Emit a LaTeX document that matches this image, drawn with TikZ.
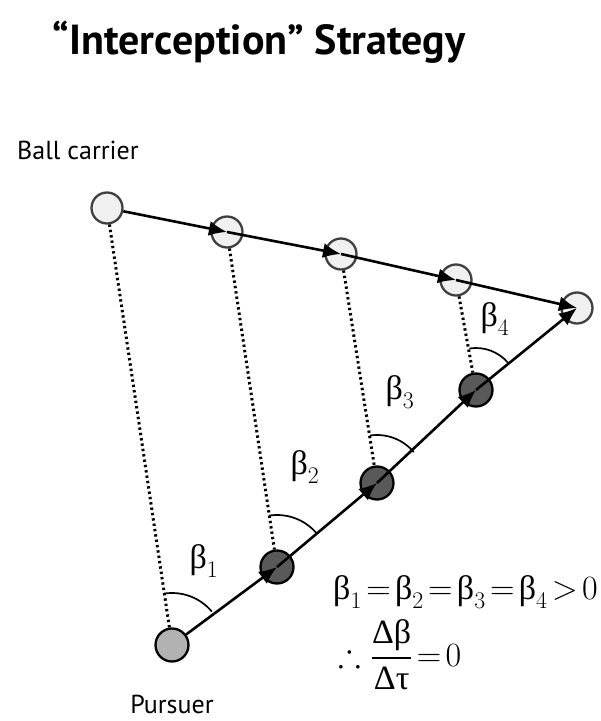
\RequirePackage{fix-cm}
\documentclass[tikz,border=0pt]{standalone}
\usepackage{fontspec}
\usepackage{amsmath,amssymb}
\setmainfont{PT Sans}
\newfontfamily\grk{Liberation Serif}
\newcommand{\bt}{\text{\grk β}}
\usetikzlibrary{arrows.meta}

\begin{document}
\begin{tikzpicture}[x=1pt,y=1pt,
 ball/.style={circle,draw=black!75,line width=2.3pt,fill=gray!12,minimum size=31pt,inner sep=0pt},
 chaser/.style={circle,draw=black,line width=2.3pt,fill=black!65,minimum size=33pt,inner sep=0pt},
 run/.style={line width=2.6pt,-{Latex[length=18pt,width=15pt]}},
 sight/.style={line width=3pt,dash pattern=on 2.4pt off 3pt},
 anglearc/.style={line width=1.7pt},
 lbl/.style={font=\fontsize{26}{30}\selectfont},
 maths/.style={font=\fontsize{34}{38}\selectfont}]
 \useasboundingbox (0,0) rectangle (601,721);
 \node[anchor=base,font=\fontsize{42}{46}\selectfont\bfseries] (title) at (259,666) {“Interception” Strategy};
 \node[lbl,anchor=base west,inner sep=0pt] (carrier) at (17,561) {Ball carrier};
 \node[lbl,anchor=base,inner sep=0pt] (pursuer) at (172,7) {Pursuer};
 % ball carrier positions
 \node[ball] (b0) at (107,513) {};
 \node[ball] (b1) at (227,489) {};
 \node[ball] (b2) at (341,467) {};
 \node[ball] (b3) at (456,441) {};
 \node[ball] (b4) at (577,413) {};
 % pursuer positions
 \node[chaser,fill=gray!60] (p0) at (172,76) {};
 \node[chaser] (p1) at (277,154) {};
 \node[chaser] (p2) at (377,238) {};
 \node[chaser] (p3) at (476,331) {};
 % lines of sight
 \draw[sight] (b0) -- (p0);
 \draw[sight] (b1) -- (p1);
 \draw[sight] (b2) -- (p2);
 \draw[sight] (b3) -- (p3);
 % paths
 \draw[run] (b0) -- (b1.center);
 \draw[run] (b1.center) -- (b2.center);
 \draw[run] (b2.center) -- (b3.center);
 \draw[run] (b3.center) -- (b4.center);
 \draw[run] (p0) -- (p1.center);
 \draw[run] (p1.center) -- (p2.center);
 \draw[run] (p2.center) -- (p3.center);
 \draw[run] (p3.center) -- (b4.center);
 % bearing angles
 \draw[anglearc] ([shift={(40:52)}]p0.center) arc[start angle=40,end angle=98.5,radius=52];
 \draw[anglearc] ([shift={(40:52)}]p1.center) arc[start angle=40,end angle=98.5,radius=52];
 \draw[anglearc] ([shift={(40:48)}]p2.center) arc[start angle=40,end angle=98.5,radius=48];
 \draw[anglearc] ([shift={(40:42)}]p3.center) arc[start angle=40,end angle=99,radius=42];
 \node[maths] (bt1) at (204,160) {$\bt_1$};
 \node[maths] (bt2) at (305,254) {$\bt_2$};
 \node[maths] (bt3) at (400,329) {$\bt_3$};
 \node[maths] (bt4) at (495,402) {$\bt_4$};
 % result
 \node[maths,anchor=base west,inner sep=0pt] (rule) at (333,121) {$\thickmuskip=2.3mu\bt_1=\bt_2=\bt_3=\bt_4>0$};
 \node[maths,anchor=west,inner sep=0pt] (rate) at (338,66) {$\thickmuskip=2.3mu\therefore\,\dfrac{\text{\grk Δβ}}{\text{\grk Δτ}}=0$};
\end{tikzpicture}
\end{document}
